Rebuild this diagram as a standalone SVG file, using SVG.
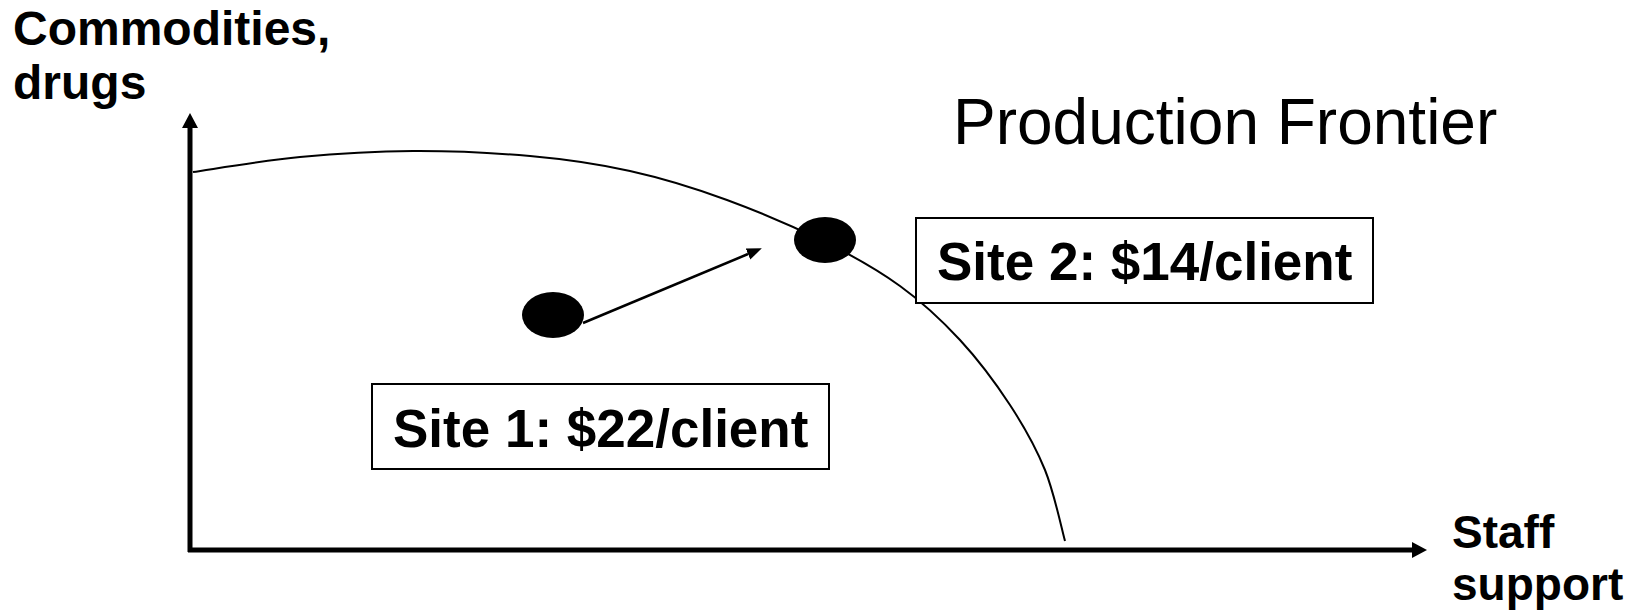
<svg xmlns="http://www.w3.org/2000/svg" width="1638" height="611" viewBox="0 0 1638 611">
  <style>
    .lbl { font-family: "Liberation Sans", Arial, sans-serif; font-weight: bold; fill: #000; }
    .title { font-family: "Liberation Sans", Arial, sans-serif; font-weight: normal; fill: #000; }
    .axis { stroke: #000; stroke-width: 5; fill: none; }
    .frontier { stroke: #000; stroke-width: 2; fill: none; }
    .box { fill: #fff; stroke: #000; stroke-width: 2; }
    .dot { fill: #000; }
    .move { stroke: #000; stroke-width: 2.5; fill: none; }
  </style>
  <defs>
    <marker id="axisHead" markerWidth="4" markerHeight="4" refX="0" refY="2" orient="auto" markerUnits="strokeWidth" viewBox="0 0 4 4">
      <path d="M0,0.4 L3,2 L0,3.6 Z" fill="#000"/>
    </marker>
    <marker id="moveHead" markerWidth="6" markerHeight="6" refX="0" refY="3" orient="auto" markerUnits="strokeWidth" viewBox="0 0 6 6">
      <path d="M0,0.6 L6,3 L0,5.4 Z" fill="#000"/>
    </marker>
  </defs>

  <rect width="1638" height="611" fill="#fff"/>

  <!-- axes -->
  <g id="axes">
    <path class="axis" d="M190,552 L190,128" marker-end="url(#axisHead)"/>
    <path class="axis" d="M188,550 L1412,550" marker-end="url(#axisHead)"/>
  </g>

  <!-- production frontier curve -->
  <g id="frontier">
    <path class="frontier" d="M193,172 C210.8,169.5 263.3,160.5 300,157 C336.7,153.5 374.7,151.2 413,151 C451.3,150.8 493.8,152.8 530,156 C566.2,159.2 597.2,163.7 630,171 C662.8,178.3 694.5,188 727,200 C759.5,212 796.2,227.7 825,242 C853.8,256.3 877.5,269.7 900,286 C922.5,302.3 941.7,320.2 960,340 C978.3,359.8 995.8,383.3 1010,405 C1024.2,426.7 1035.8,447.3 1045,470 C1054.2,492.7 1061.7,529.2 1065,541"/>
  </g>

  <!-- connectors -->
  <g id="connectors">
    <path class="move" d="M583,323 L748,254" marker-end="url(#moveHead)"/>
  </g>

  <!-- nodes -->
  <g id="site1-dot">
    <ellipse class="dot" cx="553" cy="315" rx="31" ry="23"/>
  </g>
  <g id="site2-dot">
    <ellipse class="dot" cx="825" cy="240" rx="31" ry="23"/>
  </g>

  <g id="site1-label">
    <rect class="box" x="372" y="384" width="457" height="85"/>
    <text class="lbl" x="393" y="447" font-size="53">Site 1: $22/client</text>
  </g>
  <g id="site2-label">
    <rect class="box" x="916" y="218" width="457" height="85"/>
    <text class="lbl" x="937" y="280" font-size="53">Site 2: $14/client</text>
  </g>

  <g id="y-label">
    <text class="lbl" x="13" y="45" font-size="48">Commodities,</text>
    <text class="lbl" x="13" y="99" font-size="48">drugs</text>
  </g>
  <g id="x-label">
    <text class="lbl" x="1452" y="548" font-size="46">Staff</text>
    <text class="lbl" x="1452" y="600" font-size="46">support</text>
  </g>
  <g id="title">
    <text class="title" x="953" y="144" font-size="64">Production Frontier</text>
  </g>
</svg>
